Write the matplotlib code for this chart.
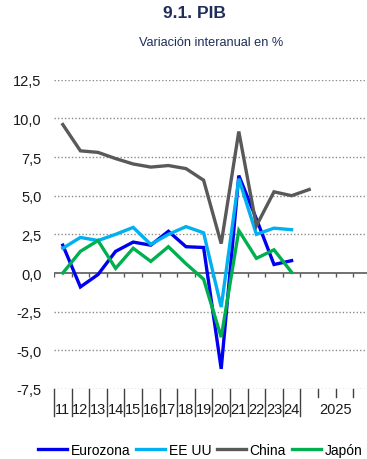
import numpy as np
import matplotlib.pyplot as plt

plt.rcParams['font.family'] = ['Liberation Sans', 'DejaVu Sans']

# 2011-2024 annual, then 2025 by quarter (only Q1 available for China)
years = ['11', '12', '13', '14', '15', '16', '17', '18', '19', '20', '21', '22', '23', '24']
year_2025 = '2025'
quarters_2025 = 4

eurozona = [1.8, -0.9, -0.1, 1.4, 2.0, 1.8, 2.7, 1.7, 1.65, -6.2, 6.3, 3.5, 0.55, 0.8]
ee_uu = [1.6, 2.3, 2.1, 2.5, 2.95, 1.85, 2.5, 3.0, 2.6, -2.2, 6.1, 2.5, 2.9, 2.8]
china = [9.6, 7.9, 7.8, 7.4, 7.05, 6.85, 6.95, 6.75, 6.0, 1.9, 9.15, 3.05, 5.25, 5.0, 5.4]
japon = [0.0, 1.4, 2.1, 0.3, 1.6, 0.75, 1.7, 0.6, -0.4, -4.15, 2.75, 0.95, 1.5, 0.05]

colors = {
    'Eurozona': '#0000F0',
    'EE UU': '#00B0F0',
    'China': '#595959',
    'Japón': '#00B050',
}
navy = '#1F2D5C'

W, H = 367, 460
fig = plt.figure(figsize=(W / 100, H / 100), dpi=100)

# pixel layout of the plotting area
slot = 17.6
n_slots = len(years) + quarters_2025
x0, y_top, y_bot = 54, 80.7, 390
ax = fig.add_axes([x0 / W, (H - y_bot) / H, n_slots * slot / W, (y_bot - y_top) / H])

ax.set_xlim(-0.5, n_slots - 0.5)
ax.set_ylim(-7.5, 12.5)

for name, vals in [('Eurozona', eurozona), ('EE UU', ee_uu), ('China', china), ('Japón', japon)]:
    ax.plot(np.arange(len(vals)), vals, color=colors[name], lw=2.4, label=name,
            solid_joinstyle='miter', zorder=3)

# dotted grid, solid zero line
yticks = np.arange(-7.5, 12.6, 2.5)
for y in yticks:
    if abs(y) > 1e-9:
        ax.axhline(y, color='#8C8C8C', lw=1.0, ls=(0, (1, 1.5)), zorder=1)
ax.axhline(0, color='#595959', lw=1.2, zorder=2)
bounds = np.arange(n_slots + 1) - 0.5
ax.vlines(bounds, -0.28, 0, color='#595959', lw=1.0, zorder=2)

for s in ax.spines.values():
    s.set_visible(False)
ax.set_xticks([])
ax.set_yticks(yticks)
ax.set_yticklabels([f'{v:.1f}'.replace('.', ',') for v in yticks])
ax.tick_params(axis='y', length=0, pad=9, labelsize=10.5, labelcolor='#1A1A1A')

# category axis below the plot
trans = ax.get_xaxis_transform()
h = y_bot - y_top
long_tick = -27 / h
short_tick = -8 / h
label_y = -20 / h
for i in range(len(years) + 1):
    ax.plot([i - 0.5, i - 0.5], [0, long_tick], transform=trans, color='#404040',
            lw=1.0, clip_on=False)
for i in range(len(years) + 1, n_slots):
    ax.plot([i - 0.5, i - 0.5], [0, short_tick], transform=trans, color='#404040',
            lw=1.0, clip_on=False)
ax.plot([n_slots - 0.5] * 2, [0, long_tick], transform=trans, color='#404040',
        lw=1.0, clip_on=False)
for i, lab in enumerate(years):
    ax.text(i, label_y, lab, transform=trans, ha='center', va='center',
            fontsize=10.5, color='#1A1A1A')
ax.text(len(years) + (quarters_2025 - 1) / 2, label_y, year_2025, transform=trans,
        ha='center', va='center', fontsize=10.5, color='#1A1A1A')

fig.text(194 / W, 1 - 13 / H, '9.1. PIB', ha='center', va='center',
         fontsize=12.5, fontweight='bold', color=navy)
fig.text(211 / W, 1 - 43 / H, 'Variación interanual en %', ha='center', va='center',
         fontsize=9.2, color=navy)

fig.legend(loc='center', bbox_to_anchor=(200 / W, 1 - 451 / H), ncol=4, frameon=False,
           fontsize=10, handlelength=2.1, handletextpad=0.25, columnspacing=0.42,
           borderpad=0, borderaxespad=0)

fig.savefig('out.png', dpi=100)
